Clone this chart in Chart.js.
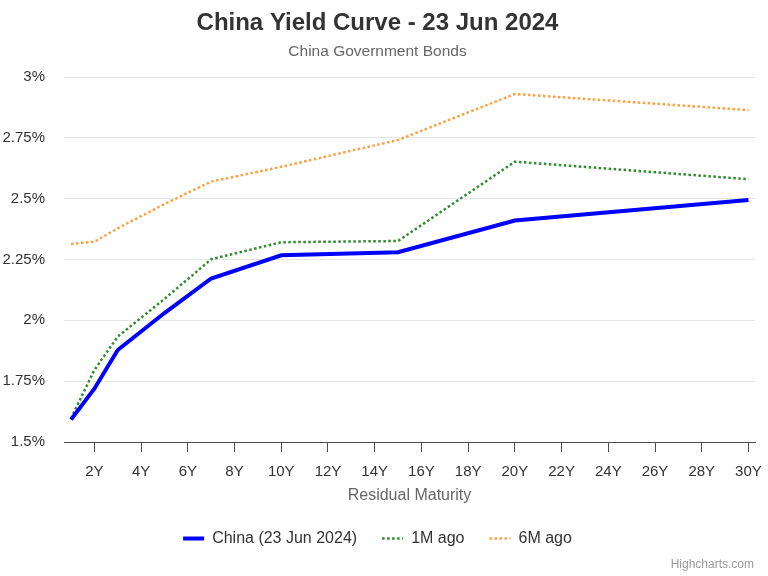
<!DOCTYPE html>
<html>
<head>
<meta charset="utf-8">
<script src="https://cdn.jsdelivr.net/npm/chart.js@4.4.1/dist/chart.umd.min.js"></script>
<style>
  html, body { margin: 0; padding: 0; background: #fff; }
  #wrap { width: 768px; height: 576px; }
</style>
</head>
<body>
<div id="wrap"><canvas id="chart" width="768" height="576"></canvas></div>
<script>
// maturities in years
const maturities = [1, 2, 3, 5, 7, 10, 15, 20, 30];
const chinaNow = [1.592, 1.719, 1.878, 2.030, 2.172, 2.267, 2.280, 2.410, 2.495];
const oneMonthAgo = [1.597, 1.796, 1.933, 2.088, 2.251, 2.321, 2.326, 2.652, 2.580];
const sixMonthsAgo = [2.314, 2.323, 2.378, 2.478, 2.570, 2.631, 2.741, 2.930, 2.864];
const seriesNames = ['China (23 Jun 2024)', '1M ago', '6M ago'];
const yTicks = [1.5, 1.75, 2, 2.25, 2.5, 2.75, 3];

const FONT = "'Liberation Sans', Arial, Helvetica, sans-serif";
Chart.defaults.font.family = FONT;

const toPoints = vals => vals.map((v, i) => ({ x: maturities[i], y: v }));

const credits = {
  id: 'credits',
  afterDraw(chart) {
    const ctx = chart.ctx;
    ctx.save();
    ctx.font = '12px ' + FONT;
    ctx.fillStyle = '#999999';
    ctx.textAlign = 'right';
    ctx.textBaseline = 'middle';
    ctx.fillText('Highcharts.com', 754, 565);
    ctx.restore();
  }
};

// legend symbols: short line with the series' own width and dash
function legendLabels(chart) {
  const base = Chart.defaults.plugins.legend.labels.generateLabels(chart);
  return base.map(item => {
    const ds = chart.data.datasets[item.datasetIndex];
    return Object.assign(item, {
      pointStyle: 'line',
      lineWidth: ds.borderWidth,
      lineDash: ds.borderDash || [],
      strokeStyle: ds.borderColor,
      fillStyle: ds.borderColor,
    });
  });
}

new Chart(document.getElementById('chart').getContext('2d'), {
  type: 'line',
  data: {
    datasets: [
      {
        label: seriesNames[0],
        data: toPoints(chinaNow),
        borderColor: '#0000ff',
        backgroundColor: '#0000ff',
        borderWidth: 4,
      },
      {
        label: seriesNames[1],
        data: toPoints(oneMonthAgo),
        borderColor: '#2e8b2e',
        backgroundColor: '#2e8b2e',
        borderWidth: 2.5,
        borderDash: [2.5, 2.5],
      },
      {
        label: seriesNames[2],
        data: toPoints(sixMonthsAgo),
        borderColor: '#ff9f40',
        backgroundColor: '#ff9f40',
        borderWidth: 2.5,
        borderDash: [2.5, 2.5],
      },
    ],
  },
  options: {
    responsive: false,
    animation: false,
    layout: { padding: { left: 0, right: 13, top: 0, bottom: 19.5 } },
    elements: {
      point: { radius: 0, hoverRadius: 0 },
      line: { tension: 0 },
    },
    plugins: {
      title: {
        display: true,
        text: 'China Yield Curve - 23 Jun 2024',
        color: '#333333',
        font: { size: 24, weight: 'bold' },
        padding: { top: 9, bottom: 0 },
      },
      subtitle: {
        display: true,
        text: 'China Government Bonds',
        color: '#666666',
        font: { size: 15.5 },
        padding: { top: 5, bottom: 15.6 },
      },
      legend: {
        position: 'bottom',
        labels: {
          usePointStyle: true,
          pointStyleWidth: 21,
          boxWidth: 21,
          padding: 25,
          color: '#333333',
          font: { size: 16 },
          generateLabels: legendLabels,
        },
      },
      tooltip: { enabled: false },
    },
    scales: {
      x: {
        type: 'linear',
        min: 0.7,
        max: 30.28,
        afterFit: s => { s.height = 63.5; s.paddingRight = 0; },
        ticks: {
          stepSize: 2,
          includeBounds: false,
          autoSkip: false,
          maxRotation: 0,
          color: '#333333',
          font: { size: 15 },
          padding: 11,
          callback: v => v + 'Y',
        },
        grid: {
          drawOnChartArea: false,
          drawTicks: true,
          tickLength: 10,
          color: '#4d4d4d',
        },
        border: { display: true, color: '#4d4d4d', width: 1 },
        title: {
          display: true,
          text: 'Residual Maturity',
          color: '#666666',
          font: { size: 16 },
          padding: { top: 0, bottom: 0 },
        },
      },
      y: {
        min: 1.5,
        max: 3,
        afterFit: s => { s.width = 64; },
        afterBuildTicks: s => { s.ticks = yTicks.map(v => ({ value: v })); },
        ticks: {
          color: '#333333',
          font: { size: 15 },
          padding: 19,
          callback: v => +v.toFixed(2) + '%',
        },
        grid: { color: '#e6e6e6', drawTicks: false },
        border: { display: false },
      },
    },
  },
  plugins: [credits],
});
</script>
</body>
</html>
